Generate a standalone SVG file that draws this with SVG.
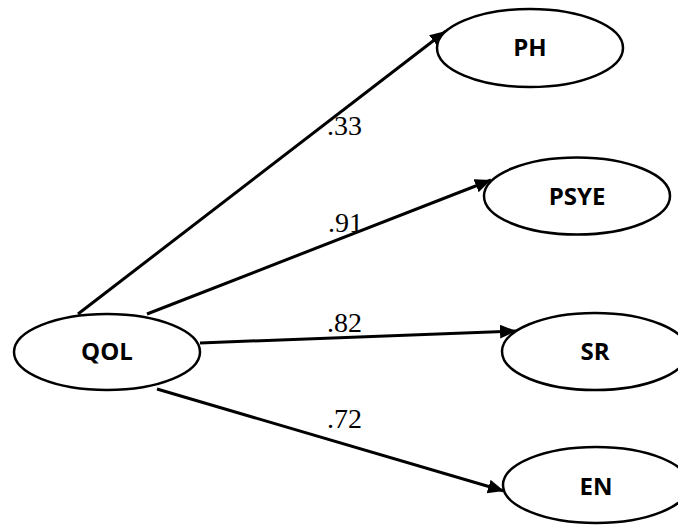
<svg xmlns="http://www.w3.org/2000/svg" width="678" height="525" viewBox="0 0 678 525">
  <style>
    .node ellipse { fill: #ffffff; stroke: #000000; stroke-width: 2.5; }
    .node text { font-family: "Open Sans", "Liberation Sans", sans-serif; font-weight: 700; font-size: 24px; fill: #000000; text-anchor: middle; }
    .edge { stroke: #000000; stroke-width: 3; fill: none; marker-end: url(#arrow); }
    .weight { font-family: "Liberation Serif", "Times New Roman", serif; font-size: 28px; fill: #000000; }
  </style>
  <defs>
    <marker id="arrow" markerUnits="userSpaceOnUse" markerWidth="18" markerHeight="16" refX="16" refY="7" orient="auto">
      <path d="M0,0 L16,7 L0,14 Z" fill="#000000"/>
    </marker>
  </defs>
  <rect width="678" height="525" fill="#ffffff"/>

  <!-- paths from QOL to each factor -->
  <g id="connectors">
    <line class="edge" x1="78" y1="314" x2="446" y2="31"/>
    <line class="edge" x1="147" y1="314" x2="491" y2="180"/>
    <line class="edge" x1="200" y1="343" x2="516" y2="331"/>
    <line class="edge" x1="157" y1="389" x2="504" y2="491"/>
  </g>

  <!-- loadings -->
  <g id="weights">
    <text class="weight" x="327" y="135">.33</text>
    <text class="weight" x="328" y="232">.91</text>
    <text class="weight" x="327" y="332">.82</text>
    <text class="weight" x="327" y="428">.72</text>
  </g>

  <g id="QOL" class="node">
    <ellipse cx="107" cy="352" rx="93" ry="38"/>
    <text x="107" y="360">QOL</text>
  </g>
  <g id="PH" class="node">
    <ellipse cx="530" cy="48" rx="93" ry="39"/>
    <text x="530" y="56">PH</text>
  </g>
  <g id="PSYE" class="node">
    <ellipse cx="577" cy="196" rx="93" ry="38.5"/>
    <text x="577" y="205">PSYE</text>
  </g>
  <g id="SR" class="node">
    <ellipse cx="595" cy="351.5" rx="93" ry="38.5"/>
    <text x="595" y="360">SR</text>
  </g>
  <g id="EN" class="node">
    <ellipse cx="596" cy="485" rx="93" ry="38"/>
    <text x="596" y="495">EN</text>
  </g>
</svg>
